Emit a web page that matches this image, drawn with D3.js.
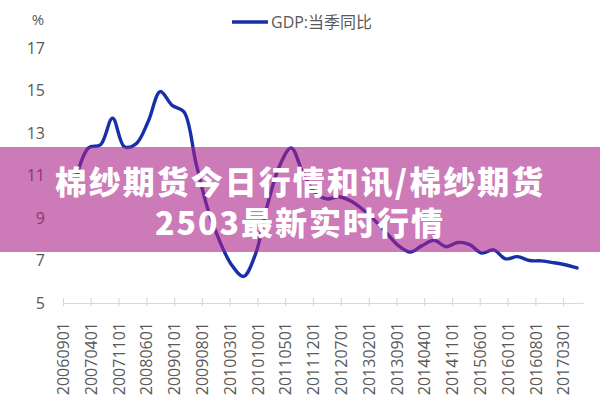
<!DOCTYPE html>
<html><head><meta charset="utf-8">
<script src="https://cdn.jsdelivr.net/npm/d3@7/dist/d3.min.js"></script>
<style>
html,body{margin:0;padding:0;background:#fff;}
svg{display:block;}
</style></head>
<body>
<svg id="chart" width="600" height="400"></svg>
<script>
// ---- data ----
const tickLabels = ["20060901","20070401","20071101","20080601","20090101","20090801","20100301","20101001","20110501","20111201","20120701","20130201","20130901","20140401","20141101","20150601","20160101","20160801","20170301"];
const yTicks = [5,7,9,11,13,15,17];
const seriesName = "GDP:当季同比";
const quarterMonths = ["2006-12","2007-03","2007-06","2007-09","2007-12","2008-03","2008-06","2008-09","2008-12","2009-03","2009-06","2009-09","2009-12","2010-03","2010-06","2010-09","2010-12","2011-03","2011-06","2011-09","2011-12","2012-03","2012-06","2012-09","2012-12","2013-03","2013-06","2013-09","2013-12","2014-03","2014-06","2014-09","2014-12","2015-03","2015-06","2015-09","2015-12","2016-03","2016-06","2016-09","2016-12","2017-03","2017-06"];
const gdpValues = [11.0,12.3,12.45,13.7,12.35,12.5,13.55,14.95,14.3,14.0,11.6,9.4,7.9,6.8,6.25,7.3,9.6,11.4,12.3,11.1,10.2,9.9,10.0,9.8,9.4,8.9,8.3,7.7,7.4,7.7,7.95,7.65,7.85,7.75,7.35,7.5,7.08,7.18,7.0,6.98,6.9,6.8,6.65];
const bannerLines = ["棉纱期货今日行情和讯/棉纱期货","2503最新实时行情"];

// ---- drawing ----
const svg = d3.select("#chart");
const parseTick = d3.timeParse("%Y%m%d");
const parseMonth = d3.timeParse("%Y-%m");

const x = d3.scaleTime()
  .domain([new Date(2006,8,1), new Date(2017,7,1)])
  .range([63,583]);
const y = d3.scaleLinear().domain([5,17]).range([303,48]);

const textColor = "#595959";

// x axis
const xAxis = d3.axisBottom(x)
  .tickValues(tickLabels.map(parseTick))
  .tickSize(0)
  .tickFormat((d,i)=>tickLabels[i]);
const gx = svg.append("g").attr("transform","translate(0,303)").call(xAxis);
gx.select(".domain").attr("stroke","#d9d9d9").attr("stroke-width",1.2);
gx.selectAll(".tick").append("line")
  .attr("y1",-5).attr("y2",3).attr("stroke","#d9d9d9").attr("stroke-width",1.2);
gx.selectAll(".tick text")
  .attr("fill",textColor)
  .attr("font-family","'Open Sans', 'DejaVu Sans', sans-serif")
  .attr("font-size",16)
  .attr("text-anchor","end")
  .attr("dy","0.35em")
  .attr("transform","translate(0,19) rotate(-90)")
  .attr("x",0).attr("y",0);

// y axis labels
const gy = svg.append("g");
gy.selectAll("text").data(yTicks).join("text")
  .attr("x",45).attr("y",d=>y(d)).attr("dy","0.35em")
  .attr("text-anchor","end")
  .attr("fill",textColor)
  .attr("font-family","'Open Sans', 'DejaVu Sans', sans-serif")
  .attr("font-size",16)
  .text(d=>d);
svg.append("text").attr("x",38).attr("y",20).attr("dy","0.35em")
  .attr("text-anchor","middle").attr("fill",textColor)
  .attr("font-family","'Open Sans', 'DejaVu Sans', sans-serif")
  .attr("font-size",15).text("%");

// legend
svg.append("line").attr("x1",232).attr("x2",268).attr("y1",22).attr("y2",22)
  .attr("stroke","#1a2eaa").attr("stroke-width",3.5);
svg.append("text").attr("x",271).attr("y",22).attr("dy","0.36em")
  .attr("fill",textColor)
  .attr("font-family","'Open Sans','Noto Sans CJK SC', sans-serif")
  .attr("font-size",16).text(seriesName);

// line
const data = quarterMonths.map((m,i)=>({date:d3.timeDay.offset(parseMonth(m),15), value:gdpValues[i]}));
const line = d3.line().x(d=>x(d.date)).y(d=>y(d.value)).curve(d3.curveCatmullRom.alpha(0.5));
svg.append("path").datum(data).attr("d",line)
  .attr("fill","none").attr("stroke","#1a2eaa").attr("stroke-width",3.4)
  .attr("stroke-linejoin","round").attr("stroke-linecap","round");

// banner overlay
svg.append("rect").attr("x",0).attr("y",147).attr("width",600).attr("height",105)
  .attr("fill","rgb(170,33,137)").attr("fill-opacity",0.6);
svg.append("g").selectAll("text").data(bannerLines).join("text")
  .attr("x",300).attr("y",(d,i)=>180+i*41)
  .attr("dominant-baseline","central")
  .attr("text-anchor","middle")
  .attr("fill","#ffffff")
  .attr("font-family","'Noto Sans CJK SC', sans-serif")
  .attr("font-weight",900)
  .attr("font-size",32)
  .attr("letter-spacing",2)
  .text(d=>d);
</script>
</body></html>
